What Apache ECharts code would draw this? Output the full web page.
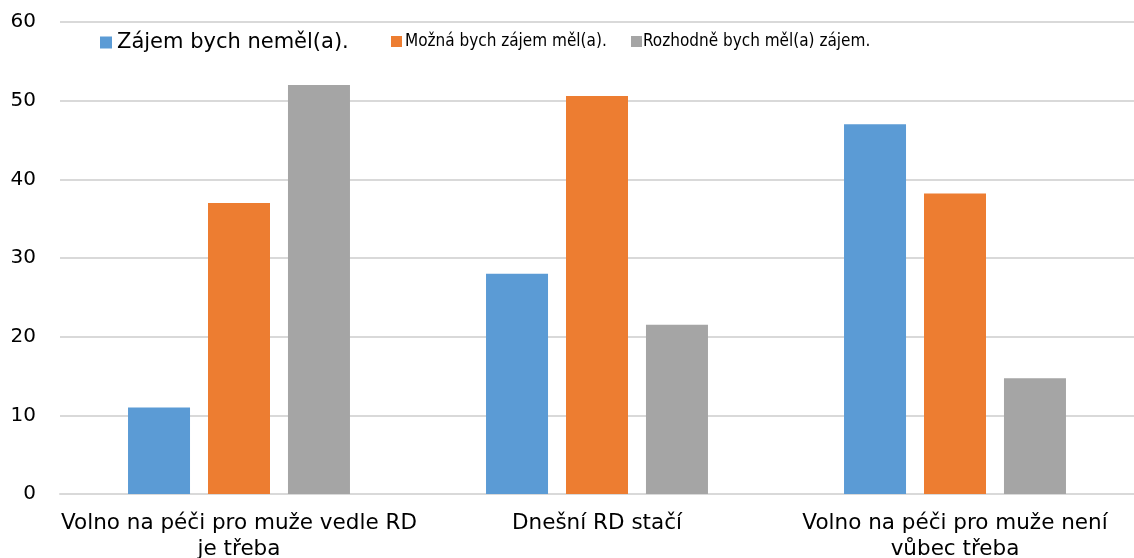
<!DOCTYPE html>
<html><head><meta charset="utf-8">
<script src="https://cdn.jsdelivr.net/npm/echarts@6/dist/echarts.min.js"></script>
<style>html,body{margin:0;padding:0;background:#fff}#c{width:1134px;height:558px}</style>
</head><body><div id="c"></div>
<script>
const categories = ["Volno na péči pro muže vedle RD\nje třeba", "Dnešní RD stačí", "Volno na péči pro muže není\nvůbec třeba"];
const seriesNames = ["Zájem bych neměl(a).", "Možná bych zájem měl(a).", "Rozhodně bych měl(a) zájem."];
const valuesNo = [11, 28, 47];
const valuesMaybe = [37, 50.6, 38.2];
const valuesYes = [52, 21.5, 14.7];
const colors = ["#5b9bd5", "#ed7d31", "#a5a5a5"];
const font = "'DejaVu Sans', Verdana, sans-serif";
const narrowFont = "'DejaVu Sans Condensed', sans-serif";
const chart = echarts.init(document.getElementById('c'));
const data = [valuesNo, valuesMaybe, valuesYes];
const legendLefts = [100, 391, 631];
const legendTops = [32, 33, 33];
const legendFonts = [font, narrowFont, narrowFont];
const legendSizes = [21, 17, 17];
const legendTextShift = [0, -2, -4];
chart.setOption({
  animation: false,
  color: colors,
  textStyle: {fontFamily: font},
  legend: seriesNames.map((n, i) => ({
    top: legendTops[i], left: legendLefts[i], padding: 0,
    itemWidth: i === 0 ? 12 : 11, itemHeight: i === 0 ? 12 : 11, itemGap: 0,
    icon: 'rect',
    textStyle: {fontFamily: legendFonts[i], fontSize: legendSizes[i], color: '#000', padding: [0, 0, 0, legendTextShift[i]]},
    data: [n]
  })),
  grid: {left: 60, right: 0, top: 22, bottom: 64, outerBoundsMode: 'none'},
  xAxis: {
    type: 'category', data: categories,
    axisLine: {lineStyle: {color: '#d9d9d9', width: 2}},
    axisTick: {show: false},
    axisLabel: {fontFamily: font, fontSize: 21.5, color: '#000', lineHeight: 26, margin: 16, interval: 0}
  },
  yAxis: {
    type: 'value', min: 0, max: 60, interval: 10,
    axisLine: {show: false}, axisTick: {show: false},
    splitLine: {lineStyle: {color: '#d9d9d9', width: 2}},
    axisLabel: {fontFamily: font, fontSize: 20, color: '#000', margin: 24}
  },
  series: seriesNames.map((n, i) => ({
    name: n, type: 'bar', data: data[i],
    barWidth: 62, barGap: '29%',
    itemStyle: {color: colors[i]}
  }))
});
</script></body></html>
